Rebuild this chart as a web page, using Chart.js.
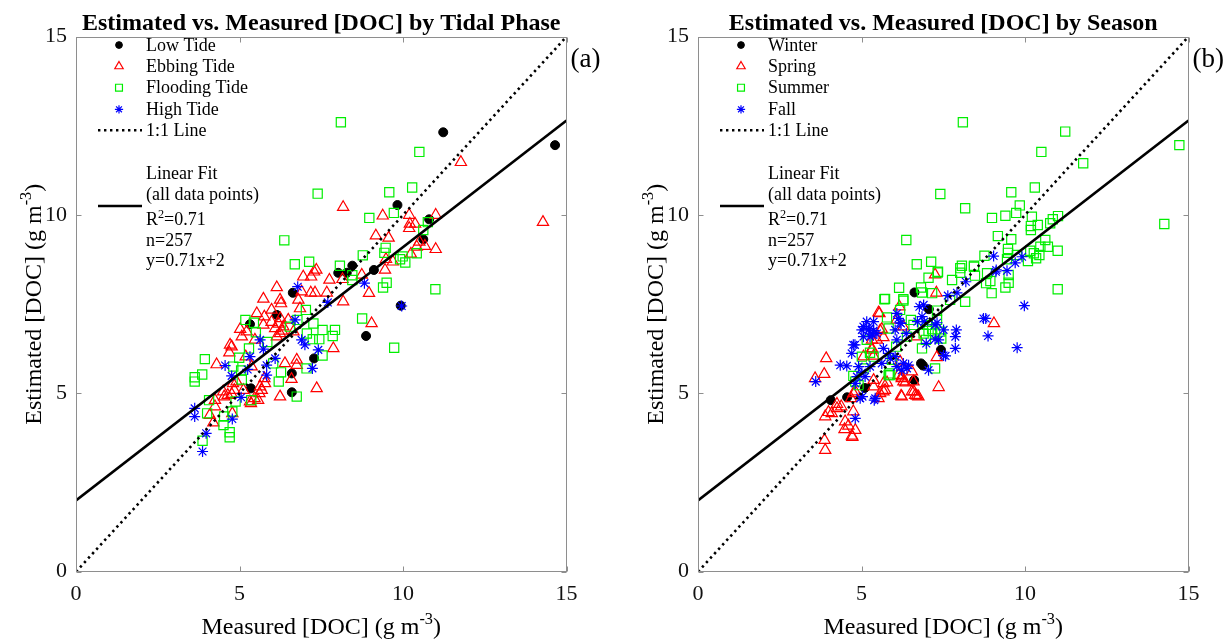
<!DOCTYPE html>
<html>
<head>
<meta charset="utf-8">
<script src="https://cdn.jsdelivr.net/npm/chart.js@4.4.0/dist/chart.umd.min.js"></script>
<style>
  html, body { margin: 0; padding: 0; background: #ffffff; }
  #wrap { position: relative; width: 1230px; height: 642px; overflow: hidden; background: #ffffff; }
  canvas { position: absolute; top: 0; }
</style>
</head>
<body>
<div id="wrap">
  <canvas id="tidePanel" width="615" height="642" style="left:0px;width:615px;height:642px"></canvas>
  <canvas id="seasonPanel" width="608" height="642" style="left:622px;width:608px;height:642px"></canvas>
</div>
<script>
// ---- axis range, ticks and regression summary ----
const axisMin = 0;
const axisMax = 15;
const tickValues = [0, 5, 10, 15];
const fitSlope = 0.71;
const fitIntercept = 2;
const fitR2 = 0.71;
const sampleCount = 257;

// ---- panel (a): [measured, estimated] DOC (g m-3) by tidal phase ----
const lowTide = [
  [11.23,12.32],[14.65,11.96],[9.83,10.28],[10.80,9.88],[10.62,9.32],[8.02,8.38],[8.28,8.38],
  [8.45,8.58],[9.11,8.46],[6.63,7.82],[6.14,7.20],[8.87,6.61],[7.28,5.98],[6.60,5.56],[6.60,5.03],
  [5.35,5.14],[5.32,6.94],[9.93,7.46]
];
const ebbingTide = [
  [11.77,11.48],[8.17,10.22],[9.38,9.98],[10.19,10.00],[10.21,9.75],[10.19,9.63],[10.37,9.75],
  [11.00,10.00],[9.17,9.42],[9.56,9.36],[10.50,9.25],[10.67,9.13],[10.42,9.11],[11.00,9.04],
  [10.24,8.91],[9.48,8.76],[9.69,8.69],[9.45,8.46],[7.75,8.18],[7.28,8.41],[7.19,8.27],[8.96,7.81],
  [9.04,6.96],[7.87,6.26],[8.17,7.57],[7.36,5.14],[6.14,7.97],[6.24,7.62],[6.90,7.85],[7.18,7.82],
  [7.31,7.82],[7.67,7.82],[6.80,7.62],[6.85,7.38],[5.73,7.65],[5.53,7.24],[5.76,7.15],[5.98,7.34],
  [5.02,6.80],[5.22,6.73],[5.47,6.50],[4.71,6.36],[4.76,6.31],[4.69,6.14],[5.98,7.00],[6.09,6.82],
  [6.24,6.68],[6.14,6.59],[6.34,6.87],[6.49,7.06],[6.65,6.73],[4.30,5.81],[5.19,6.03],[5.37,5.75],
  [6.75,5.79],[4.50,5.05],[5.12,5.09],[5.61,5.00],[5.68,5.09],[6.24,4.91],[5.76,5.42],
  [8.15,8.20],[8.74,8.32],[7.35,8.46],[6.95,8.27],[14.28,9.80],
  [4.20,4.18],[4.09,4.39],[4.25,4.63],[4.25,4.81],[4.53,4.91],[4.64,4.95],[4.78,4.44],[4.80,5.28],
  [4.84,5.09],[4.91,5.33],[5.35,4.72],[5.46,4.86],[5.57,4.81],[5.63,5.19],[6.59,5.40],[6.39,5.84],
  [6.20,6.95],[6.30,6.75],[6.25,7.10],[5.73,6.92],[5.07,6.59],[6.27,7.52],[6.75,5.94],[5.78,5.28],
  [4.76,4.98],[5.32,4.77]
];
const floodingTide = [
  [8.10,12.60],[10.50,11.77],[9.58,10.64],[10.28,10.77],[7.39,10.60],[8.97,9.92],[9.72,10.06],
  [6.37,9.29],[6.69,8.62],[7.13,8.69],[8.07,8.58],[8.77,8.87],[9.47,9.08],[9.43,8.94],[9.99,8.84],
  [10.07,8.67],[9.91,8.76],[10.42,8.93],[10.62,9.58],[10.76,9.80],[8.45,8.31],[8.45,8.18],[9.50,8.10],
  [9.39,7.97],[10.99,7.92],[8.75,7.10],[9.73,6.28],[7.03,7.34],[7.26,6.96],[7.54,6.78],[7.44,6.52],
  [7.92,6.78],[7.85,6.61],[7.54,6.06],[6.77,7.06],[6.54,6.87],[7.06,6.68],[7.24,6.52],[5.18,7.06],
  [5.44,6.98],[5.50,6.71],[5.29,6.26],[5.85,6.44],[4.99,6.00],[4.81,5.75],[3.94,5.96],[3.86,5.53],
  [3.63,5.45],[3.63,5.33],[5.07,5.39],[5.05,5.64],[6.20,5.33],[6.27,5.59],[6.75,4.91],[6.03,5.84],
  [4.01,4.44],[3.87,3.67],[4.51,4.11],[4.70,3.91],[4.70,3.77],[4.53,4.35],[4.78,4.49],[4.07,4.81],
  [4.88,4.77],[5.36,4.81],[7.05,5.70]
];
const highTide = [
  [9.96,7.45],[8.82,8.09],[6.78,7.99],[7.70,7.55],[5.63,6.50],[5.73,6.24],[6.90,6.50],[7.00,6.36],
  [7.41,6.22],[7.23,5.70],[6.09,5.98],[5.83,5.79],[5.83,5.51],[5.32,6.03],[4.56,5.78],[4.76,5.49],
  [6.70,7.06],[3.63,4.58],[3.63,4.35],[3.98,3.88],[3.87,3.37],[4.78,4.28],[5.05,4.89],[5.25,5.67]
];

// ---- panel (b): [measured, estimated] DOC (g m-3) by season ----
const winter = [
  [6.62,7.83],[7.06,7.36],[7.43,6.22],[6.82,5.84],[6.88,5.78],[6.61,5.37],[5.10,5.15],[4.56,4.89],
  [4.06,4.81]
];
const spring = [
  [7.25,8.33],[7.29,7.82],[9.05,6.96],[5.55,7.24],[6.16,7.43],[6.08,7.06],[6.28,6.87],[5.57,6.76],
  [5.67,6.57],[5.47,6.50],[6.69,6.59],[3.92,5.98],[3.86,5.54],[5.32,6.26],[5.06,6.03],[6.18,5.89],
  [7.30,6.01],[6.23,5.47],[6.54,5.61],[6.59,5.33],[6.34,5.30],[5.78,5.30],[5.67,5.05],[4.81,5.05],
  [5.37,5.19],[6.23,4.91],[6.64,4.95],[7.36,5.17],[5.52,7.26],[5.62,6.80],[5.32,6.50],[5.32,6.22],
  [5.37,6.05],[3.58,5.42],[4.75,5.00],[4.68,4.86],[4.25,4.70],[4.25,4.58],[4.09,4.44],[3.99,4.47],
  [3.89,4.35],[4.50,4.21],[4.60,4.09],[4.48,3.99],[4.81,3.97],[4.71,3.81],[4.72,3.77],[3.87,3.69],
  [3.89,3.41],[4.75,4.49],[4.38,4.63],[5.37,5.37],[5.67,5.28],[5.72,5.09],[5.57,5.00],[5.52,4.86],
  [6.23,5.42],[6.28,5.33],[6.13,5.51],[6.54,5.05],[6.21,4.93],[6.69,4.93],[6.60,5.05],[6.74,4.91]
];
const summer = [
  [8.10,12.60],[11.23,12.34],[10.50,11.77],[11.78,11.45],[14.72,11.96],[14.26,9.75],[9.58,10.64],
  [10.30,10.77],[7.41,10.59],[8.17,10.19],[8.99,9.92],[9.40,9.98],[9.73,10.06],[9.84,10.27],
  [10.21,9.95],[10.18,9.69],[10.18,9.58],[10.39,9.72],[10.77,9.77],[10.85,9.88],[11.01,9.97],
  [6.37,9.30],[9.17,9.41],[9.58,9.32],[9.48,9.05],[9.48,8.94],[10.16,9.00],[10.27,8.93],[10.47,9.11],
  [10.62,9.30],[10.70,9.11],[11.00,9.00],[10.44,8.88],[10.34,8.79],[10.09,8.71],[8.76,8.86],
  [9.45,8.76],[9.75,8.88],[6.69,8.62],[7.13,8.69],[7.33,8.39],[8.07,8.58],[8.44,8.58],[8.02,8.38],
  [8.47,8.30],[8.94,8.15],[8.81,8.09],[9.50,8.10],[9.40,7.97],[8.98,7.81],[11.00,7.92],[6.15,7.96],
  [6.82,7.97],[6.85,7.83],[7.05,8.24],[5.72,7.65],[6.28,7.60],[8.17,7.57],[7.71,7.62],[7.77,8.18],
  [5.78,7.13],[6.51,7.06],[6.18,7.34],[7.31,7.32],[7.31,7.06],[7.05,6.75],[7.25,6.68],[5.83,6.82],
  [5.16,6.50],[5.26,6.14],[5.01,6.03],[5.06,5.70],[4.75,5.49],[5.83,5.51],[7.25,5.70],[6.85,6.26],
  [6.06,6.31],[5.93,5.94],[6.39,6.59],[5.70,7.64],[6.28,7.64],[7.16,7.81],[7.34,8.41],[6.59,6.92],
  [6.90,6.68],[7.00,6.92],[7.16,6.80],[6.97,6.50],[7.41,6.73],[7.44,6.54],[5.37,6.03],[5.88,5.51],
  [4.91,5.23],[8.84,8.37],[9.50,8.32],[8.02,8.51],[8.44,8.55],[5.85,5.56],[4.81,5.33]
];
const fall = [
  [9.98,7.46],[9.04,8.85],[9.11,8.41],[9.45,8.44],[9.70,8.66],[9.91,8.83],[8.19,8.13],[7.92,7.82],
  [7.64,7.74],[8.73,7.10],[8.87,6.61],[9.76,6.28],[6.77,7.43],[6.85,7.15],[6.71,7.01],[6.92,7.01],
  [6.08,7.24],[6.18,6.98],[7.31,6.98],[7.51,6.78],[7.25,6.52],[7.90,6.78],[7.87,6.59],[7.87,6.26],
  [6.98,6.40],[7.51,6.06],[6.37,6.68],[5.16,7.01],[5.37,7.01],[5.01,6.78],[5.22,6.78],[5.37,6.76],
  [5.47,6.68],[5.26,6.59],[5.06,6.59],[4.75,6.36],[4.70,6.12],[4.35,5.79],[4.55,5.77],[4.91,5.75],
  [5.01,5.58],[5.11,5.47],[5.26,5.75],[5.62,5.84],[5.88,5.98],[6.03,6.03],[6.28,5.84],[6.39,5.70],
  [5.67,6.26],[6.08,6.50],[6.90,7.48],[6.13,7.10],[6.21,6.96],[6.03,6.78],[5.24,6.82],[5.06,6.87],
  [5.34,6.64],[5.83,6.12],[6.08,5.75],[6.23,5.65],[4.86,5.47],[4.81,5.28],[4.96,4.86],[4.81,4.30],
  [5.42,4.86],[6.44,5.79],[7.05,5.65],[7.25,6.92],[7.36,6.50],[3.60,5.33],[5.03,4.91],[5.39,4.81],
  [4.80,6.36],[7.57,6.05],[8.80,7.10],[9.12,8.46]
];

const tideNames = ['Low Tide', 'Ebbing Tide', 'Flooding Tide', 'High Tide'];
const seasonNames = ['Winter', 'Spring', 'Summer', 'Fall'];

// ---- styling ----
const SERIF = "'Liberation Serif', 'Times New Roman', Times, serif";
const frameColor = '#8e8e8e';
const markerStyles = [
  { pointStyle: 'circle',   radius: 4.5, fill: '#000000',      stroke: '#000000', width: 1 },
  { pointStyle: 'triangle', radius: 6.5, fill: 'rgba(0,0,0,0)', stroke: '#ff0000', width: 1.2 },
  { pointStyle: 'rect',     radius: 6.5, fill: 'rgba(0,0,0,0)', stroke: '#00ee00', width: 1.2 },
  { pointStyle: 'star',     radius: 5.5, fill: 'rgba(0,0,0,0)', stroke: '#0000ff', width: 1.2 }
];
const legendMarkerScale = 0.75;

// text with optional superscript pieces: parts = [[text, isSuperscript], ...]
function drawRich(ctx, parts, x, baseline, size, align, weight) {
  const w8 = weight || 'normal';
  let total = 0;
  parts.forEach(([t, sup]) => {
    ctx.font = `${w8} ${sup ? size * 0.68 : size}px ${SERIF}`;
    total += ctx.measureText(t).width;
  });
  let cx = align === 'center' ? x - total / 2 : x;
  ctx.textAlign = 'left';
  ctx.textBaseline = 'alphabetic';
  parts.forEach(([t, sup]) => {
    ctx.font = `${w8} ${sup ? size * 0.68 : size}px ${SERIF}`;
    ctx.fillText(t, cx, sup ? baseline - size * 0.42 : baseline);
    cx += ctx.measureText(t).width;
  });
}

function drawMarker(ctx, style, x, y, scale) {
  ctx.save();
  ctx.fillStyle = style.fill;
  ctx.strokeStyle = style.stroke;
  ctx.lineWidth = style.width;
  Chart.helpers.drawPoint(ctx, {
    pointStyle: style.pointStyle, radius: style.radius * scale, rotation: 0, borderWidth: style.width
  }, x, y);
  ctx.restore();
}

// frame, inward ticks, titles, legend and panel tag
const decorPlugin = {
  id: 'panelDecor',
  afterDraw(chart, args, opts) {
    const ctx = chart.ctx;
    const a = chart.chartArea;
    const xs = chart.scales.x, ys = chart.scales.y;
    ctx.save();

    // box
    ctx.strokeStyle = frameColor;
    ctx.lineWidth = 1;
    const L = Math.round(a.left) + 0.5, R = Math.round(a.right) - 0.5;
    const T = Math.round(a.top) + 0.5, B = Math.round(a.bottom) - 0.5;
    ctx.strokeRect(L, T, R - L, B - T);
    const tl = 5;
    ctx.beginPath();
    tickValues.forEach(v => {
      const px = Math.round(xs.getPixelForValue(v)) + 0.5;
      ctx.moveTo(px, B); ctx.lineTo(px, B - tl);
      ctx.moveTo(px, T); ctx.lineTo(px, T + tl);
      const py = Math.round(ys.getPixelForValue(v)) + 0.5;
      ctx.moveTo(L, py); ctx.lineTo(L + tl, py);
      ctx.moveTo(R, py); ctx.lineTo(R - tl, py);
    });
    ctx.stroke();

    ctx.fillStyle = '#000000';
    const midX = (a.left + a.right) / 2;
    const midY = (a.top + a.bottom) / 2;

    // title
    drawRich(ctx, [[opts.title, false]], midX, 30, 24, 'center', 'bold');

    // axis titles
    drawRich(ctx, [['Measured [DOC] (g m', false], ['-3', true], [')', false]], midX, 634, 24, 'center');
    ctx.save();
    ctx.translate(41, midY);
    ctx.rotate(-Math.PI / 2);
    drawRich(ctx, [['Estimated [DOC] (g m', false], ['-3', true], [')', false]], 0, 0, 24, 'center');
    ctx.restore();

    // panel tag
    drawRich(ctx, [[opts.tag, false]], a.right + 4, 67, 27, 'left');

    // legend
    const fs = 18;
    const mx = a.left + 43, tx = a.left + 70;
    const rowY = [8.3, 29.6, 51, 72.6, 93.6].map(d => a.top + d);
    opts.names.forEach((name, i) => {
      drawMarker(ctx, markerStyles[i], mx, rowY[i], legendMarkerScale);
      ctx.fillStyle = '#000000';
      drawRich(ctx, [[name, false]], tx, rowY[i] + fs * 0.32, fs, 'left');
    });
    ctx.strokeStyle = '#000000';
    ctx.lineWidth = 2.6;
    ctx.setLineDash([2.4, 3.6]);
    ctx.beginPath();
    ctx.moveTo(a.left + 22, rowY[4]); ctx.lineTo(a.left + 66, rowY[4]);
    ctx.stroke();
    ctx.setLineDash([]);
    drawRich(ctx, [['1:1 Line', false]], tx, rowY[4] + fs * 0.32, fs, 'left');

    const fitY = a.top + 169.3;
    ctx.beginPath();
    ctx.moveTo(a.left + 22, fitY); ctx.lineTo(a.left + 66, fitY);
    ctx.stroke();
    const fitRows = [
      [['Linear Fit', false]],
      [['(all data points)', false]],
      [['R', false], ['2', true], ['=' + fitR2.toFixed(2), false]],
      [['n=' + sampleCount, false]],
      [['y=' + fitSlope + 'x+' + fitIntercept, false]]
    ];
    const fitRowY = [136.6, 157.3, 182.6, 203.3, 224];
    fitRows.forEach((parts, i) => {
      drawRich(ctx, parts, tx, a.top + fitRowY[i] + fs * 0.32, fs, 'left');
    });
    ctx.restore();
  }
};

function buildPanel(canvasId, groups, names, title, tag, rightPad) {
  const toXY = arr => arr.map(([x, y]) => ({ x, y }));
  const scatterSets = groups.map((g, i) => ({
    label: names[i],
    data: toXY(g),
    showLine: false,
    pointStyle: markerStyles[i].pointStyle,
    pointRadius: markerStyles[i].radius,
    pointHoverRadius: markerStyles[i].radius,
    pointBackgroundColor: markerStyles[i].fill,
    pointBorderColor: markerStyles[i].stroke,
    pointBorderWidth: markerStyles[i].width
  }));
  const fitLine = {
    label: 'Linear Fit',
    data: [axisMin, axisMax].map(x => ({ x, y: fitSlope * x + fitIntercept })),
    showLine: true, borderColor: '#000000', borderWidth: 2.6, pointRadius: 0, pointHoverRadius: 0
  };
  const identityLine = {
    label: '1:1 Line',
    data: [axisMin, axisMax].map(x => ({ x, y: x })),
    showLine: true, borderColor: '#000000', borderWidth: 2.6, borderDash: [2.4, 3.6],
    borderCapStyle: 'butt', pointRadius: 0, pointHoverRadius: 0
  };
  // the first dataset is painted last: lines on top, then stars, squares, triangles, dots
  const datasets = [fitLine, identityLine].concat(scatterSets.slice().reverse());

  const tickFont = { family: SERIF, size: 22 };
  return new Chart(document.getElementById(canvasId), {
    type: 'scatter',
    data: { datasets },
    plugins: [decorPlugin],
    options: {
      responsive: false,
      animation: false,
      devicePixelRatio: 1,
      events: [],
      layout: { padding: { left: 0, top: 36.7, right: rightPad, bottom: 0 } },
      plugins: {
        legend: { display: false },
        tooltip: { enabled: false },
        title: { display: false },
        panelDecor: { title, names, tag }
      },
      scales: {
        x: {
          type: 'linear', min: axisMin, max: axisMax,
          grid: { display: false, drawTicks: false },
          border: { display: false },
          afterBuildTicks: s => { s.ticks = tickValues.map(v => ({ value: v })); },
          ticks: { font: tickFont, color: '#111111', padding: 9, maxRotation: 0, autoSkip: false },
          afterFit: s => { s.height = 70.3; }
        },
        y: {
          type: 'linear', min: axisMin, max: axisMax,
          grid: { display: false, drawTicks: false },
          border: { display: false },
          afterBuildTicks: s => { s.ticks = tickValues.map(v => ({ value: v })); },
          ticks: { font: tickFont, color: '#111111', padding: 9, autoSkip: false },
          afterFit: s => { s.width = 76; }
        }
      }
    }
  });
}

buildPanel('tidePanel', [lowTide, ebbingTide, floodingTide, highTide], tideNames,
  'Estimated vs. Measured [DOC] by Tidal Phase', '(a)', 615 - 566.5);
buildPanel('seasonPanel', [winter, spring, summer, fall], seasonNames,
  'Estimated vs. Measured [DOC] by Season', '(b)', 608 - 566.5);
</script>
</body>
</html>
